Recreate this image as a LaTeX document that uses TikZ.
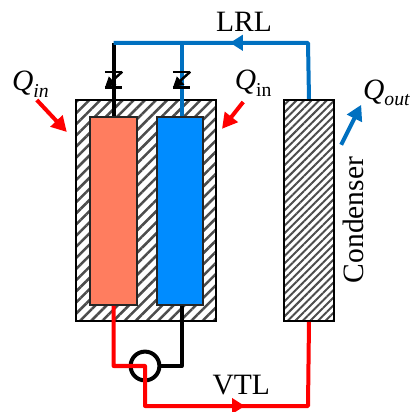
\documentclass[tikz,border=0pt]{standalone}
\usepackage{fontspec}
\setmainfont{Liberation Serif}
\usetikzlibrary{arrows.meta,patterns.meta}
\definecolor{hot}{RGB}{255, 125, 95}
\definecolor{cold}{RGB}{0, 140, 255}
\definecolor{pipeblue}{RGB}{0, 112, 192}
\definecolor{pipered}{RGB}{255, 0, 0}
\newcommand{\heatlabel}[2]{\textit{Q}\raisebox{-0.22em}{\fontsize{14pt}{14pt}\selectfont #1{#2}}}
\tikzstyle{hatched} = [
    rectangle,
    draw=black,
    line width=0.05cm,
    pattern color=black!70
]
\tikzstyle{core} = [
    rectangle,
    draw=black!85,
    line width=0.05cm,
    minimum height=4.7cm
]
\tikzstyle{pipe} = [
    line width=0.1cm,
    line join=round
]
\tikzstyle{heat} = [
    line width=0.1cm,
    -{Triangle[length=0.38cm,width=0.4cm]}
]
\tikzstyle{flow} = [
    pipe,
    -{Triangle[length=0.32cm,width=0.38cm]}
]
\tikzstyle{label} = [
    font=\fontsize{21pt}{21pt}\selectfont,
    inner sep=0pt
]
\begin{document}
\begin{tikzpicture}
    \useasboundingbox (0,0) rectangle (10.25,10.3);
    % Evaporator and condenser
    \node[hatched,pattern={Lines[angle=45,distance=5.6pt,line width=1.8pt]},minimum width=3.52cm,minimum height=5.525cm] (shell) at (3.65,5.04) {};
    \node[core,fill=hot,minimum width=1.175cm] (hotcore) at (2.84,5.025) {};
    \node[core,fill=cold,minimum width=1.15cm] (coldcore) at (4.5,5.025) {};
    \node[hatched,pattern={Lines[angle=45,distance=3.8pt,line width=1.4pt]},minimum width=1.25cm,minimum height=5.525cm] (condenser) at (7.725,5.04) {};

    % Pump and pipe corners
    \node[circle,draw=black,line width=0.1cm,minimum size=0.72cm,inner sep=0pt] (pump) at (3.625,1.15) {};
    \coordinate (topleft) at (2.84,9.23);
    \coordinate (topmid) at (4.54,9.23);
    \coordinate (topright) at (7.7,9.23);
    \coordinate (liquidtip) at (5.75,9.23);
    \coordinate (hotbend) at (2.84,1.15);
    \coordinate (coldbend) at (4.54,1.15);
    \coordinate (lowleft) at (3.625,0.15);
    \coordinate (lowright) at (7.7,0.15);
    \coordinate (vaportip) at (6.12,0.15);

    % Liquid line
    \draw[pipe,black] (topleft) -- (hotcore.north);
    \draw[pipe,pipeblue] (topmid) -- (topmid |- coldcore.north);
    \draw[pipe,pipeblue] (topleft) -- (topright) -- (condenser.north);
    \draw[flow,pipeblue] (topright) -- (liquidtip);

    % Check valves
    \foreach \name/\xpos in {hotvalve/2.84,coldvalve/4.54} {
        \node[minimum width=0.42cm,minimum height=0.38cm,inner sep=0pt] (\name) at (\xpos,8.31) {};
        \draw[line width=0.06cm] (\name.north west) -- (\name.north east);
        \draw[line width=0.06cm] (\name.south west) -- (\name.south east);
        \draw[line width=0.06cm,black,-{Triangle[length=0.26cm,width=0.26cm]}] (\name.north east) -- (\name.south west);
    }

    % Vapor line
    \draw[pipe,black] (coldcore.south -| coldbend) -- (coldbend) -- (pump.east);
    \draw[pipe,pipered] (hotcore.south) -- (hotbend) -- (pump.center) -- (lowleft)
        -- (lowright) -- (condenser.south);
    \draw[flow,pipered] (lowleft) -- (vaportip);

    % Heat arrows
    \coordinate (inleftstart) at (0.92,7.8);
    \coordinate (inleftend) at (1.67,7.0);
    \coordinate (inrightstart) at (6.08,7.75);
    \coordinate (inrightend) at (5.55,7.08);
    \coordinate (outstart) at (8.53,6.68);
    \coordinate (outend) at (9.03,7.68);
    \draw[heat,pipered] (inleftstart) -- (inleftend);
    \draw[heat,pipered] (inrightstart) -- (inrightend);
    \draw[heat,pipeblue] (outstart) -- (outend);

    % Labels
    \node[label] (lrl) at (6.1,9.76) {LRL};
    \node[label] (vtl) at (6.03,0.68) {VTL};
    \node[label] (qinleft) at (0.76,8.2) {\heatlabel{\itshape}{in}};
    \node[label] (qinright) at (6.33,8.22) {\heatlabel{}{in}};
    \node[label] (qout) at (9.66,7.98) {\heatlabel{\itshape}{out}};
    \node[label,rotate=90] (condenserlabel) at (8.83,4.8) {Condenser};
\end{tikzpicture}
\end{document}
